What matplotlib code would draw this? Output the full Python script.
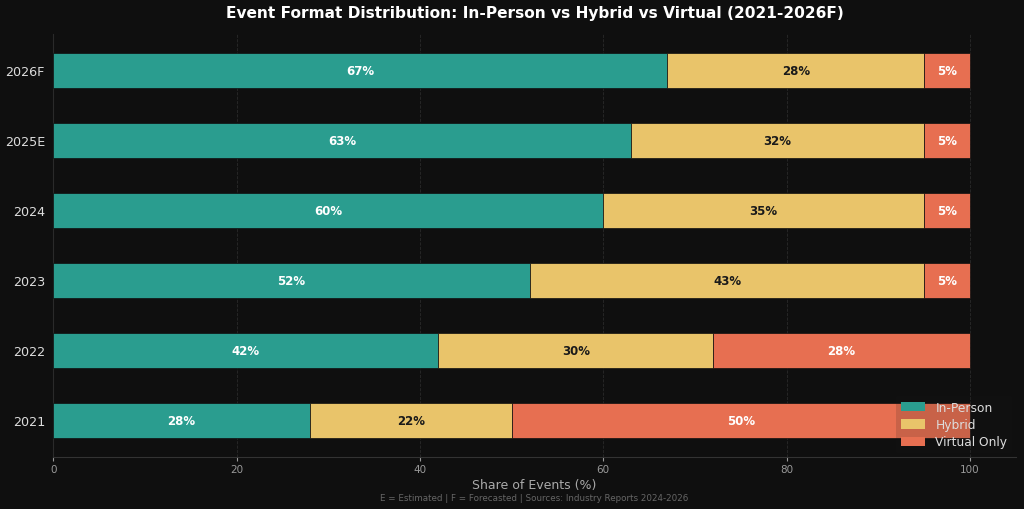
import matplotlib
matplotlib.use("Agg")
import matplotlib.pyplot as plt
import numpy as np

years = ["2021", "2022", "2023", "2024", "2025E", "2026F"]
in_person = [28, 42, 52, 60, 63, 67]
hybrid = [22, 30, 43, 35, 32, 28]
virtual = [50, 28, 5, 5, 5, 5]

BG = "#0f0f0f"
colors = {"In-Person": "#2a9d8f", "Hybrid": "#e9c46a", "Virtual Only": "#e76f51"}
text_colors = {"In-Person": "white", "Hybrid": "#1a1a1a", "Virtual Only": "white"}

fig, ax = plt.subplots(figsize=(10.24, 5.1), dpi=100)
fig.patch.set_facecolor(BG)
ax.set_facecolor(BG)

y = np.arange(len(years))
left = np.zeros(len(years))
for name, vals in [("In-Person", in_person), ("Hybrid", hybrid), ("Virtual Only", virtual)]:
    vals = np.array(vals, dtype=float)
    ax.barh(y, vals, left=left, height=0.5, color=colors[name],
            edgecolor=BG, linewidth=0.5, label=name, zorder=3)
    for yi, l, v in zip(y, left, vals):
        ax.text(l + v / 2, yi, f"{v:.0f}%", ha="center", va="center",
                color=text_colors[name], fontsize=8.5, fontweight="bold", zorder=4)
    left += vals

ax.set_yticks(y)
ax.set_yticklabels(years)
ax.set_xlim(0, 105)
ax.tick_params(axis="y", colors="#dddddd", labelsize=9.2, length=0, pad=6)
ax.tick_params(axis="x", colors="#999999", labelsize=7.5, length=3, pad=2)
ax.xaxis.grid(True, color="#2a2a2a", linestyle="--", linewidth=0.6, zorder=0)
for s in ["top", "right"]:
    ax.spines[s].set_visible(False)
ax.spines["bottom"].set_color("#333333")
ax.spines["left"].set_color("#2a2a2a")

ax.set_xlabel("Share of Events (%)", color="#aaaaaa", fontsize=9, labelpad=3)
ax.set_title("Event Format Distribution: In-Person vs Hybrid vs Virtual (2021-2026F)",
             color="white", fontsize=11.1, fontweight="bold", pad=12)

# footer centred under the axes, not the figure
plt.subplots_adjust(left=0.052, right=0.992, top=0.932, bottom=0.102)
pos = ax.get_position()
fig.text((pos.x0 + pos.x1) / 2, 0.017,
         "E = Estimated | F = Forecasted | Sources: Industry Reports 2024-2026",
         ha="center", color="#666666", fontsize=6.3)

leg = ax.legend(loc="lower right", fontsize=8.8, facecolor="#1a1a1a", framealpha=0.15,
                edgecolor="none", labelcolor="#dddddd", borderaxespad=0.3,
                handlelength=2.0, handleheight=0.8, labelspacing=0.35)
for h in leg.legend_handles:
    h.set_edgecolor("none")

plt.savefig("out.png", facecolor=BG)
plt.close()
